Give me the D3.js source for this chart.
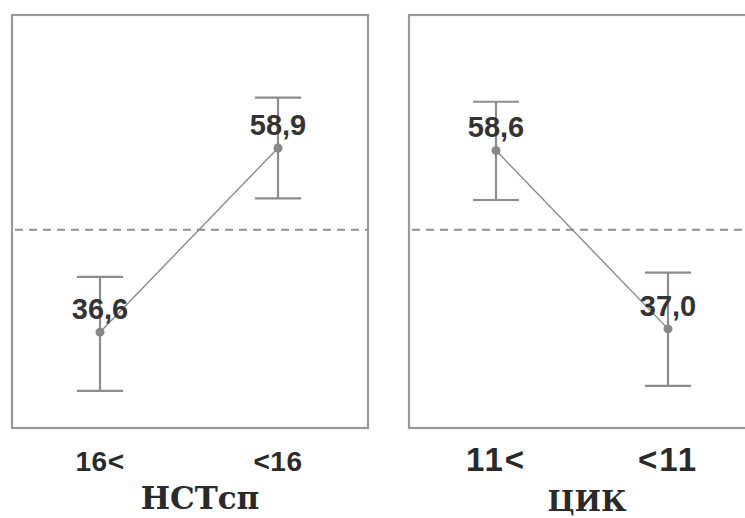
<!DOCTYPE html>
<html>
<head>
<meta charset="utf-8">
<script src="https://cdn.jsdelivr.net/npm/d3@7"></script>
<style>
  body { margin: 0; background: #fff; }
</style>
</head>
<body>
<div id="chart"></div>
<script>
// panels
const panelTitles = ["НСТсп", "ЦИК"];
const panelCats = [["16<", "<16"], ["11<", "<11"]];
// means with lower / upper limits of the bars
const panelMeans = [[36.6, 58.9], [58.6, 37.0]];
const panelLow = [[29.5, 52.8], [52.6, 30.1]];
const panelHigh = [[43.3, 65.0], [64.5, 43.8]];
const refValue = 49;
const yDomain = [25, 75];

const width = 745, height = 518;
const boxTop = 15, boxBottom = 428;

const svg = d3.select("#chart").append("svg")
  .attr("width", width)
  .attr("height", height);

const y = d3.scaleLinear().domain(yDomain).range([boxBottom, boxTop]);

const panels = [
  { x0: 12, x1: 368, range: [100, 278], tickSize: 28, tickSpacing: 0.5 },
  { x0: 409, x1: 765, range: [496, 668], tickSize: 33, tickSpacing: 2 }
];

const grey = "#8c8c8c";

panels.forEach((p, i) => {
  const x = d3.scalePoint().domain(panelCats[i]).range(p.range);
  const g = svg.append("g");

  // frame
  g.append("rect")
    .attr("x", p.x0).attr("y", boxTop)
    .attr("width", p.x1 - p.x0).attr("height", boxBottom - boxTop)
    .attr("fill", "none")
    .attr("stroke", "#999")
    .attr("stroke-width", 2.2);

  // reference line
  g.append("line")
    .attr("x1", p.x0 + 3).attr("x2", p.x1)
    .attr("y1", y(refValue)).attr("y2", y(refValue))
    .attr("stroke", "#8f8f8f")
    .attr("stroke-width", 2)
    .attr("stroke-dasharray", "8,6");

  const rows = panelCats[i].map((c, j) => ({
    cat: c, mean: panelMeans[i][j], lo: panelLow[i][j], hi: panelHigh[i][j]
  }));

  // error bars
  const eb = g.selectAll(".eb").data(rows).join("g");
  eb.append("line")
    .attr("x1", d => x(d.cat)).attr("x2", d => x(d.cat))
    .attr("y1", d => y(d.lo)).attr("y2", d => y(d.hi))
    .attr("stroke", grey).attr("stroke-width", 2.2);
  eb.selectAll(".cap").data(d => [d.lo, d.hi].map(v => ({ cat: d.cat, v })))
    .join("line")
    .attr("x1", d => x(d.cat) - 23).attr("x2", d => x(d.cat) + 23)
    .attr("y1", d => y(d.v)).attr("y2", d => y(d.v))
    .attr("stroke", grey).attr("stroke-width", 2.2);

  // connecting line
  g.append("path")
    .datum(rows)
    .attr("fill", "none")
    .attr("stroke", "#8a8a8a")
    .attr("stroke-width", 1.4)
    .attr("d", d3.line().x(d => x(d.cat)).y(d => y(d.mean)));

  // points
  g.selectAll("circle").data(rows).join("circle")
    .attr("cx", d => x(d.cat)).attr("cy", d => y(d.mean))
    .attr("r", 4.5)
    .attr("fill", "#888");

  // value labels
  g.selectAll(".val").data(rows).join("text")
    .attr("x", d => x(d.cat))
    .attr("y", d => y(d.mean) - 13)
    .attr("text-anchor", "middle")
    .attr("font-family", "Liberation Sans, Arial, sans-serif")
    .attr("font-weight", "bold")
    .attr("font-size", 29)
    .attr("fill", "#333")
    .text(d => d.mean.toFixed(1).replace(".", ","));

  // category ticks
  g.selectAll(".tick").data(panelCats[i]).join("text")
    .attr("x", d => x(d))
    .attr("y", 471)
    .attr("text-anchor", "middle")
    .attr("font-family", "Liberation Sans, Arial, sans-serif")
    .attr("font-weight", "bold")
    .attr("font-size", p.tickSize)
    .attr("letter-spacing", p.tickSpacing)
    .attr("fill", "#2a2a2a")
    .text(d => d);

  // axis title
  g.append("text")
    .attr("x", i === 0 ? 200 : 587)
    .attr("y", i === 0 ? 509 : 511)
    .attr("text-anchor", "middle")
    .attr("font-family", "DejaVu Serif, serif")
    .attr("font-weight", "bold")
    .attr("font-size", i === 0 ? 31 : 28)
    .attr("fill", "#2a2a2a")
    .text(panelTitles[i]);
});
</script>
</body>
</html>
